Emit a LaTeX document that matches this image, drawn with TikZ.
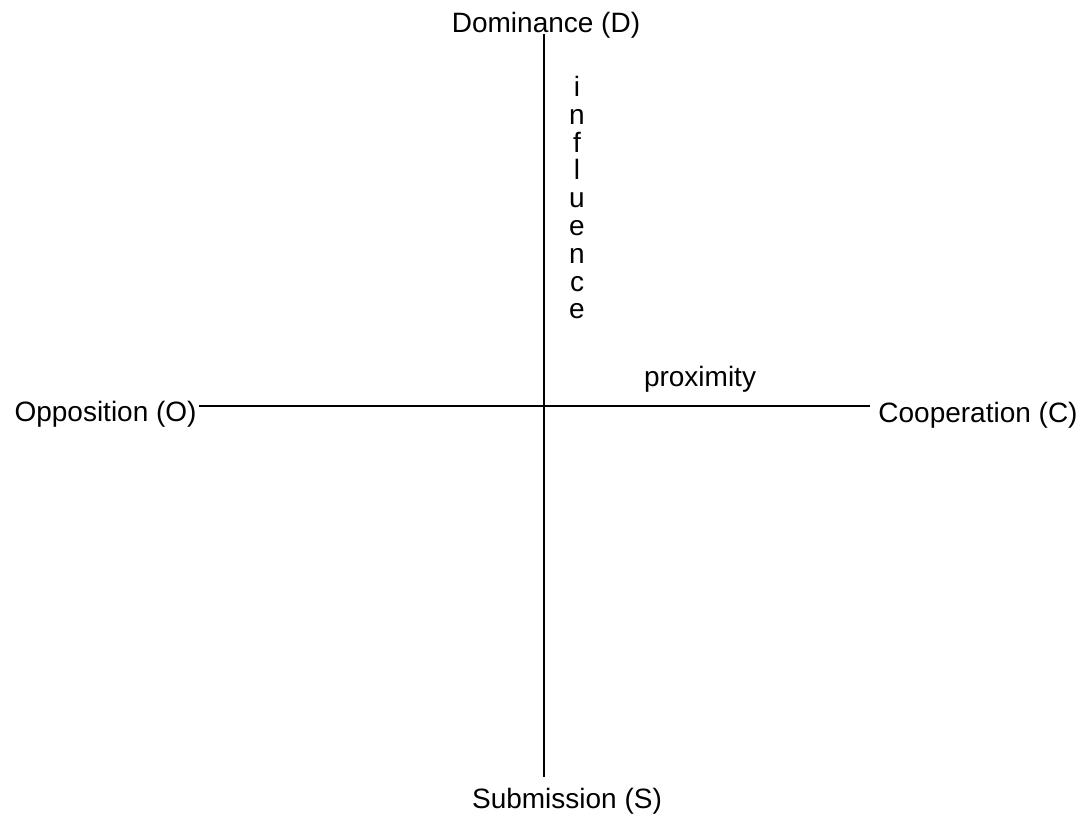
\documentclass[tikz,border=0pt]{standalone}
\usepackage{fontspec}
\setmainfont{Liberation Sans}
\usetikzlibrary{positioning}
\definecolor{ipcInk}{HTML}{000000}
\tikzset{
  ipc/axis/.style={draw=ipcInk, line width=1pt},
  ipc/pole/.style={font=\fontsize{14}{14}\selectfont, text=ipcInk,
    inner sep=0pt},
  ipc/dimension/.style={ipc/pole, align=center,
    font=\fontsize{14}{13.9}\selectfont},
}
\begin{document}
\begin{tikzpicture}[x=0.5pt, y=-0.5pt]
\useasboundingbox (0,0) rectangle (1086,817);
% axis ends
\coordinate (top) at (544,34);
\coordinate (bottom) at (544,777);
\coordinate (west) at (199,406);
\coordinate (east) at (870,406);
% poles
\node[ipc/pole, anchor=base] (dom) at (546,33) {Dominance (D)};
\node[ipc/pole, anchor=base] (sub) at (567,808) {Submission (S)};
\node[ipc/pole, anchor=base east] (opp) at (197,422) {Opposition (O)};
\node[ipc/pole, anchor=base west] (coop) at (878,423) {Cooperation (C)};
% dimensions
\node[ipc/dimension, anchor=base] (prox) at (700,387) {proximity};
\node[ipc/dimension, anchor=base] (infl) at (577,319) {i\\n\\f\\l\\u\\e\\n\\c\\e};
\draw[ipc/axis] (top) -- (bottom);
\draw[ipc/axis] (west) -- (east);
\end{tikzpicture}
\end{document}
